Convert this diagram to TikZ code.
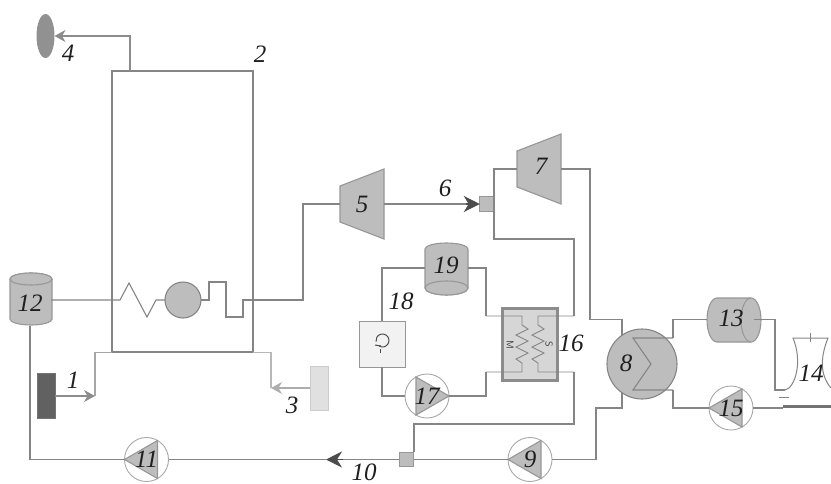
\documentclass[tikz,border=0pt]{standalone}
\usepackage{fontspec}
\setmainfont{Liberation Serif}
\usetikzlibrary{arrows.meta,calc,shapes.geometric}
\definecolor{ln}{gray}{0.52}
\definecolor{eq}{gray}{0.74}
\tikzset{
  x=1pt,y=-1pt,
  conn/.style={draw=ln,line width=1.1pt,line join=miter},
  lab/.style={font=\fontsize{25}{25}\selectfont\itshape,text=black!88,inner sep=0pt},
  shapebox/.style={draw=ln!85,fill=eq,line width=1.1pt},
  pump/.style={circle,draw=ln!70,line width=0.9pt,fill=white,minimum size=44pt,inner sep=0pt,outer sep=0pt},
  head/.style={-{Stealth[length=16pt,width=16pt,inset=5pt]}},
  headsmall/.style={-{Stealth[length=11pt,width=12pt,inset=3.5pt]}},
}
% name, position, direction (+1 tip right, -1 tip left), text
\newcommand{\pumpfig}[4]{%
  \node[pump] (#1) at (#2) {};
  \draw[shapebox,shift={(#1.center)}] (#3*22,0)--(-#3*11,-19)--(-#3*11,19)--cycle;
  \node[lab] at (#1.center) {#4};
}
\begin{document}
\begin{tikzpicture}
\useasboundingbox (0,0) rectangle (831,483);
% boiler
\node[draw=ln,line width=1.2pt,minimum width=141pt,minimum height=281pt,inner sep=0,outer sep=0] (boiler) at (182.5,211.5) {};
\node[lab] (l2) at (260,54) {2};
% stack
\node[ellipse,fill=ln!90,minimum width=18pt,minimum height=44pt,inner sep=0,outer sep=0] (e4) at (45.5,36) {};
\coordinate (stackb) at (130,71);
\draw[conn,draw=black!45,headsmall] (stackb) |- (e4.east);
\node[lab] (l4) at (68,53) {4};
% air
\node[fill=black!62,draw=black!55,minimum width=18pt,minimum height=45pt,inner sep=0,outer sep=0] (b1) at (46,395.5) {};
\coordinate (inA) at (95,396);
\coordinate (inAt) at (112,352.5);
\draw[conn,draw=black!45,headsmall] (b1.east|-inA) -- (inA);
\draw[conn,draw=black!35] (inA) |- (inAt);
\node[lab] (l1) at (73,380) {1};
% fuel
\node[fill=black!12,draw=black!20,minimum width=18pt,minimum height=44pt,inner sep=0,outer sep=0] (b3) at (319,388) {};
\coordinate (inF) at (271,388);
\coordinate (inFt) at (253,352.5);
\draw[conn,draw=black!32,headsmall] (b3.west) -- (inF);
\draw[conn,draw=black!28] (inF) |- (inFt);
\node[lab] (l3) at (292,405) {3};
% cylinder 12
\draw[shapebox] (10,279) arc[start angle=180,end angle=360,x radius=21,y radius=6] -- (52,319) arc[start angle=0,end angle=180,x radius=21,y radius=6] -- cycle;
\draw[shapebox,fill=eq] (31,279) ellipse[x radius=21,y radius=6];
\node[lab,minimum width=42pt,minimum height=52pt] (c12) at (30,303) {12};
\coordinate (c12b) at (30,326);
% evaporator circle and 5
\node[circle,draw=ln,fill=eq,line width=1.1pt,minimum size=36pt,inner sep=0,outer sep=0] (drum) at (183,300) {};
\draw[conn] (c12.east|-drum) -- (120,300) -- (129,283) -- (147,317) -- (156,300) -- (drum.west);
\draw[shapebox] (340,186)--(384,169)--(384,239)--(340,222)--cycle;
\node[lab,minimum width=44pt,minimum height=36pt] (t5) at (362,204) {5};
\draw[conn] (drum.east) -- (209,300) -- (209,282) -- (226,282) -- (226,317) -- (243,317) -- (243,300) -| (303,204) -- (t5.west);
% junction 6
\node[fill=eq,draw=ln!85,line width=1pt,minimum size=14.5pt,inner sep=0,outer sep=0] (j6) at (487,204) {};
\draw[conn] (t5.east) -- (470,204);
\draw[conn,draw=black!70,head] (466,204) -- (j6.west);
\node[lab] (l6) at (445,188) {6};
% turbine 7
\draw[shapebox] (517,151)--(561,134)--(561,204)--(517,187)--cycle;
\node[lab,minimum width=44pt,minimum height=36pt] (t7) at (539,169) {};
\node[lab] at (541,166) {7};
% HX 16
\node[draw=black!45,fill=black!16,line width=2.6pt,minimum width=55pt,minimum height=72pt,inner sep=0,outer sep=0] (hx) at (530,344.5) {};
\coordinate (ms) at (522,316);
\coordinate (me) at (522,372);
\coordinate (ss) at (538,316);
\coordinate (se) at (538,372);
\draw[conn,line width=0.9pt] (486,316) -- (ms) -- (522,325) -- (528,329) -- (516,335) -- (528,341) -- (516,347) -- (528,353) -- (516,359) -- (522,363) -- (me) -- (486,372);
\draw[conn,line width=0.9pt] (574,316) -- (ss) -- (538,325) -- (544,329) -- (532,335) -- (544,341) -- (532,347) -- (544,353) -- (532,359) -- (538,363) -- (se) -- (574,372);
\node[rotate=-90,font=\sffamily\fontsize{10}{10}\selectfont,text=black!75,inner sep=0] (lM) at (510,345) {M};
\node[rotate=-90,font=\sffamily\fontsize{10}{10}\selectfont,text=black!75,inner sep=0] (lS) at (549,344) {S};
\node[lab] (l16) at (571,343) {16};
% steam lines
\coordinate (hxs) at (574,316);
\coordinate (hxr) at (574,372);
\draw[conn] (t7.west) -- (494,169) -- (494,239) -- (574,239) -- (hxs);
% cylinder 19
\draw[shapebox] (425,249) arc[start angle=180,end angle=360,x radius=21.5,y radius=6] -- (468,288) arc[start angle=0,end angle=180,x radius=21.5,y radius=7] -- cycle;
\draw[shapebox] (446.5,288) ellipse[x radius=21.5,y radius=7];
\node[lab,minimum width=43pt,minimum height=53pt] (c19) at (446.5,268) {};
\node[lab] at (446,265) {19};
% box 18
\node[draw=ln!85,fill=black!5,line width=1pt,minimum size=46pt,inner sep=0,outer sep=0] (b18) at (382,344) {};
\draw[draw=black!70,line width=1pt] (379.2,346.1) arc[start angle=120,end angle=-190,radius=6.5];
\draw[draw=black!70,line width=1pt] (380,349) -- (380,353);
\draw[draw=black!70,line width=1pt] (375,345) -- (381,346);
\node[lab] (l18) at (401,301) {18};
% pump 17
\pumpfig{p17}{427,396}{1}{17}
\draw[conn] (c19.west) -| (b18.north);
\draw[conn] (b18.south) |- (p17.west);
\draw[conn] (p17.east) -| (486,372);
\draw[conn] (c19.east) -| (486,316);
% condenser 8
\node[circle,draw=ln,fill=eq,line width=1.1pt,minimum size=70pt,inner sep=0,outer sep=0] (h8) at (642,364) {};
\node[lab] (l8) at (626,363) {8};
\coordinate (h8a) at (673,338);
\coordinate (h8b) at (673,390);
\draw[conn] (h8a) -- (633,338) -- (651,364) -- (633,390) -- (h8b);
\coordinate (h8in) at (622,335);
\coordinate (h8out) at (622,393);
\draw[conn] (t7.east) -- (590,169) -- (590,319.5) -| (h8in);
% cylinder 13
\draw[shapebox] (717,298) -- (751,298) arc[start angle=-90,end angle=90,x radius=10,y radius=22] -- (717,342) arc[start angle=90,end angle=270,x radius=10,y radius=22] -- cycle;
\draw[draw=ln!85,line width=1pt] (751,298) arc[start angle=270,end angle=90,x radius=10,y radius=22];
\node[lab,minimum width=54pt,minimum height=44pt] (c13) at (734,320) {};
\node[lab] at (731,318) {13};
\coordinate (c13w) at (707,319.5);
\draw[conn] (h8a) -- (673,319.5) -- (c13w);
% tower 14
\coordinate (tw) at (785,390);
\draw[conn] (754,319.5) -- (775,319.5) -- (775,390) -- (tw);
\draw[conn,line width=1pt] (tw) .. controls (795,388) and (803,362) .. (793,338) -- (828,338) .. controls (820,358) and (820,375) .. (831,388);
\draw[ln,line width=1pt] (810,333) -- (810,342);
\draw[ln,line width=1pt] (779,397) -- (789,397);
\node[lab] (l14) at (811,373) {14};
% pump 15
\pumpfig{p15}{731,408}{-1}{15}
\node[fill=black!55,minimum width=48pt,minimum height=3.5pt,inner sep=0,outer sep=0] (bar) at (807,406.5) {};
\draw[conn] (h8b) |- (p15.west);
\draw[conn] (p15.east) -- (783,408);
% pump 9, junction, 11
\pumpfig{p9}{530,459.5}{-1}{9}
\node[fill=eq,draw=ln!85,line width=1pt,minimum size=14.5pt,inner sep=0,outer sep=0] (j10) at (406.5,459.5) {};
\pumpfig{p11}{146.5,459.5}{-1}{11}
\draw[conn] (h8out) -- (622,408) -- (596,408) |- (p9.east);
\draw[conn] (p9.west) -- (j10.east);
\draw[conn] (hxr) -- (574,424) -- (414,424) -- (414,452);
\draw[conn] (j10.west) -- (340,459.5);
\draw[conn,draw=black!70,head] (343,459.5) -- (326,459.5);
\draw[conn] (326,459.5) -- (p11.east);
\node[lab] (l10) at (364,472) {10};
\draw[conn] (p11.west) -| (c12b);
\end{tikzpicture}
\end{document}
